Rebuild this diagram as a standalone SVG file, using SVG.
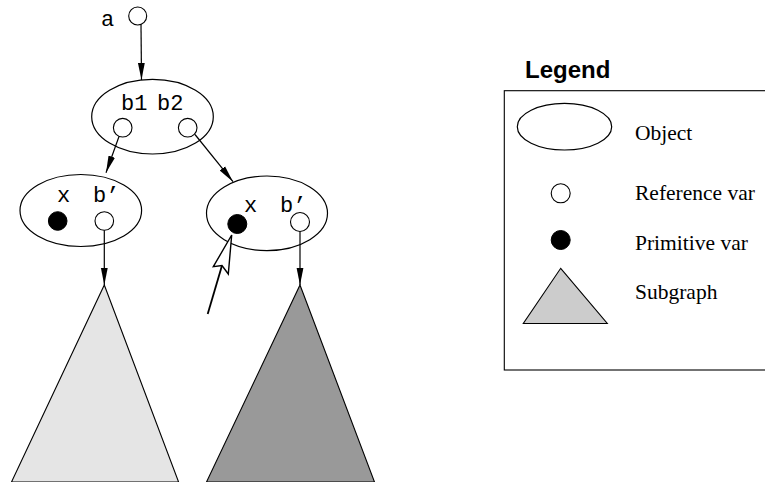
<svg xmlns="http://www.w3.org/2000/svg" width="765" height="482" viewBox="0 0 765 482">
  <defs>
    <marker id="arrow" markerUnits="userSpaceOnUse" markerWidth="18" markerHeight="8" refX="17" refY="4" orient="auto">
      <path d="M0,0.6 L17,4 L0,7.4 Z" fill="#000"/>
    </marker>
    <style>
      .obj { fill: #fff; stroke: #000; stroke-width: 1.2; }
      .ref { fill: #fff; stroke: #000; stroke-width: 1.1; }
      .prim { fill: #000; stroke: #000; stroke-width: 1; }
      .edge { fill: none; stroke: #000; stroke-width: 1.2; marker-end: url(#arrow); }
      .mono { font-family: "Liberation Mono", "Courier New", monospace; font-size: 22px; fill: #000; }
      .serif { font-family: "Liberation Serif", "Times New Roman", serif; font-size: 21.5px; fill: #000; }
      .title { font-family: "Liberation Sans", Arial, sans-serif; font-weight: bold; font-size: 24px; fill: #000; }
      .tri { stroke: #000; stroke-width: 1.1; }
    </style>
  </defs>

  <!-- root reference a -->
  <g id="node-a">
    <text class="mono" x="101" y="26">a</text>
    <circle class="ref" cx="137.7" cy="16" r="9"/>
  </g>

  <!-- object holding b1 and b2 -->
  <g id="node-b">
    <ellipse class="obj" cx="152.5" cy="116.7" rx="60.8" ry="37.3"/>
    <text class="mono" x="121" y="110">b1</text>
    <text class="mono" x="157" y="110">b2</text>
    <circle class="ref" cx="122.7" cy="127.7" r="9.3"/>
    <circle class="ref" cx="187.7" cy="127.7" r="9.3"/>
  </g>

  <!-- left child object -->
  <g id="node-left">
    <ellipse class="obj" cx="80.8" cy="210.5" rx="60.8" ry="36"/>
    <text class="mono" x="57" y="202">x</text>
    <text class="mono" x="93" y="202">b’</text>
    <circle class="prim" cx="57.7" cy="221" r="9.3"/>
    <circle class="ref" cx="104.3" cy="221" r="9.3"/>
  </g>

  <!-- right child object -->
  <g id="node-right">
    <ellipse class="obj" cx="267" cy="213.3" rx="60.5" ry="37.3"/>
    <text class="mono" x="244" y="212">x</text>
    <text class="mono" x="280" y="212">b’</text>
    <circle class="prim" cx="237.3" cy="224" r="9.5"/>
    <circle class="ref" cx="300" cy="222" r="9.5"/>
  </g>

  <!-- subgraphs -->
  <g id="subgraph-left">
    <polygon class="tri" points="104.3,285 178.6,482 11.5,482" fill="#e5e5e5"/>
  </g>
  <g id="subgraph-right">
    <polygon class="tri" points="300,285 374.5,482 206.5,482" fill="#999999"/>
  </g>

  <!-- connectors -->
  <g id="connectors">
    <line class="edge" x1="141" y1="24.5" x2="141.5" y2="80"/>
    <line class="edge" x1="119" y1="136.5" x2="106" y2="172.7"/>
    <line class="edge" x1="195" y1="134.5" x2="233" y2="181.7"/>
    <line class="edge" x1="104.3" y1="230.3" x2="104.3" y2="285"/>
    <line class="edge" x1="300" y1="231.5" x2="300" y2="285"/>
    <!-- hollow pointer arrow -->
    <line x1="207.7" y1="314" x2="222" y2="265.5" stroke="#000" stroke-width="1.8"/>
    <polygon points="231.7,235 213.3,266.7 222,265.5 228.3,274" fill="#fff" stroke="#000" stroke-width="1.4" stroke-linejoin="miter"/>
  </g>

  <!-- legend -->
  <g id="legend">
    <text class="title" x="525" y="78">Legend</text>
    <rect x="504.3" y="90.7" width="280" height="279.3" fill="none" stroke="#000" stroke-width="1.1"/>
    <ellipse class="obj" cx="564.5" cy="126.7" rx="47.2" ry="23.3"/>
    <text class="serif" x="635" y="140">Object</text>
    <circle class="ref" cx="560.7" cy="193.3" r="9.5"/>
    <text class="serif" x="635" y="200">Reference var</text>
    <circle class="prim" cx="560.7" cy="240" r="9.5"/>
    <text class="serif" x="635" y="250">Primitive var</text>
    <polygon class="tri" points="560.7,268.3 607.3,323.5 523.3,323.5" fill="#cccccc"/>
    <text class="serif" x="635" y="299">Subgraph</text>
  </g>
</svg>
